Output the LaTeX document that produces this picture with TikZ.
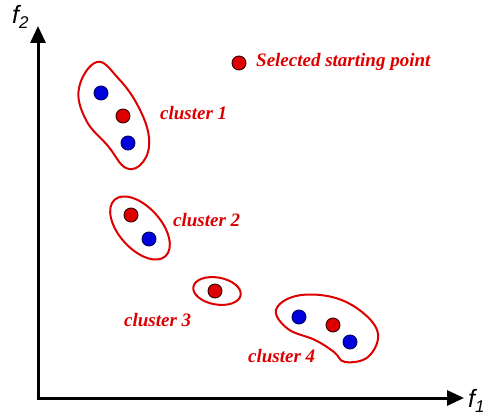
\documentclass[tikz,border=0pt]{standalone}
\usepackage{fontspec}
\setmainfont{Liberation Serif}
\newfontfamily\axfont{Liberation Sans}
\usetikzlibrary{arrows.meta}
\definecolor{cred}{RGB}{221,0,0}
\definecolor{cblue}{RGB}{0,0,221}
\begin{document}
\begin{tikzpicture}[x=1pt,y=-1pt,
  axis/.style={line width=3pt,-{Triangle[length=17pt,width=15pt]}},
  rpt/.style={circle,fill=cred,draw=black!80!red,line width=0.9pt,minimum size=14pt,inner sep=0pt},
  bpt/.style={circle,fill=cblue,draw=black!60!blue,line width=0.9pt,minimum size=14pt,inner sep=0pt},
  blob/.style={draw=cred,line width=2pt},
  lab/.style={text=cred,font=\fontsize{19}{21}\selectfont\bfseries\itshape,inner sep=0pt},
  axlab/.style={font=\axfont\itshape\fontsize{25}{27}\selectfont,inner sep=0pt}]
\useasboundingbox (0,0) rectangle (484,419);
\coordinate (O) at (38,398);
\coordinate (Ytop) at (38,26);
\coordinate (Xend) at (464,398);
\draw[axis] (O) -- (Ytop);
\draw[axis] ([xshift=-1.5pt]O) -- (Xend);
\node[axlab,anchor=west] (f2) at (12,17) {f\raisebox{-5pt}{\fontsize{17}{18}\selectfont 2}};
\node[axlab,anchor=west] (f1) at (468,401) {f\raisebox{-5pt}{\fontsize{17}{18}\selectfont 1}};
% cluster outlines
\draw[blob] plot[smooth cycle,tension=0.7] coordinates {(97,62) (118,78) (138,106) (149,138) (143,162) (126,168) (108,146) (86,120) (79,88)};
\draw[blob,rotate around={-48:(140,228)}] (140,228) ellipse (38 and 21);
\draw[blob,rotate around={-10:(217,291)}] (217,291) ellipse (24 and 13.5);
\draw[blob] plot[smooth cycle,tension=0.65] coordinates {(276,310) (296,296) (332,297) (362,312) (378,334) (368,357) (345,362) (334,352) (315,340) (288,329)};
% points
\node[bpt] (c1a) at (101,93) {};
\node[rpt] (c1b) at (123,116) {};
\node[bpt] (c1c) at (128,143) {};
\node[rpt] (c2a) at (131,215) {};
\node[bpt] (c2b) at (149,239) {};
\node[rpt] (c3a) at (215,291) {};
\node[bpt] (c4a) at (299,317) {};
\node[rpt] (c4b) at (333,325) {};
\node[bpt] (c4c) at (350,342) {};
\node[rpt] (leg) at (239,63) {};
% labels
\node[lab,anchor=west] (lleg) at (256,62) {Selected starting point};
\node[lab,anchor=west] (l1) at (160,113) {cluster 1};
\node[lab,anchor=west] (l2) at (173,220) {cluster 2};
\node[lab,anchor=west] (l3) at (124,320) {cluster 3};
\node[lab,anchor=west] (l4) at (248,356) {cluster 4};
\end{tikzpicture}
\end{document}
